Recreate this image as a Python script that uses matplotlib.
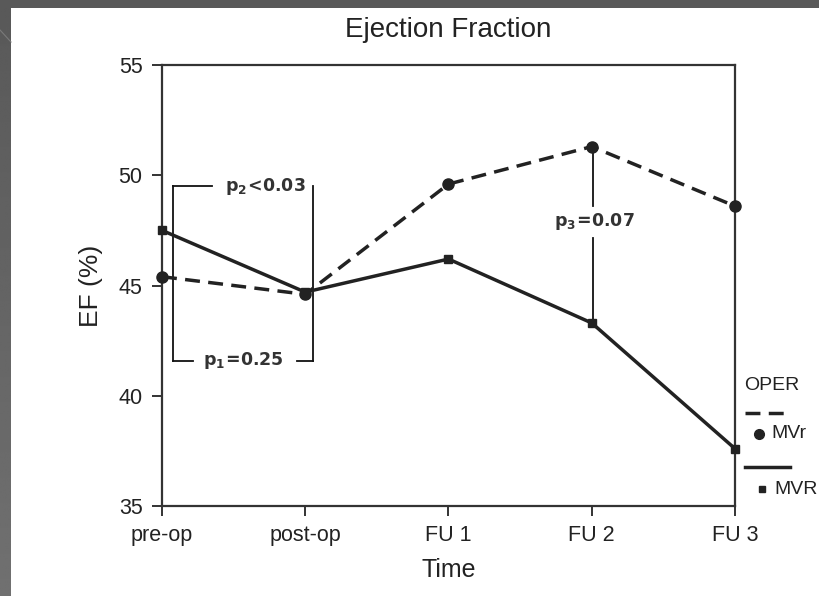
import numpy as np
import matplotlib
matplotlib.use("Agg")
import matplotlib.pyplot as plt
from matplotlib.lines import Line2D
from matplotlib.patches import Rectangle

# Time points and ejection fraction (%) per operation type
time_points = ["pre-op", "post-op", "FU 1", "FU 2", "FU 3"]
ef_mvr_repair = [45.4, 44.6, 49.6, 51.3, 48.6]    # MVr
ef_mvr_replace = [47.5, 44.7, 46.2, 43.3, 37.6]   # MVR

y_ticks = [35, 40, 45, 50, 55]

plt.rcParams["mathtext.fontset"] = "dejavusans"

W, H = 819, 596
fig = plt.figure(figsize=(W / 100, H / 100), dpi=100)
fig.patch.set_facecolor("#595959")

# Slide-like frame: white panel with a darker strip at the left edge
fig.add_artist(Rectangle((11 / W, 0), 1 - 11 / W, 1 - 8 / H,
                         transform=fig.transFigure, facecolor="white",
                         edgecolor="none", zorder=0))
strip = fig.add_axes([0, 0, 11 / W, 1 - 8 / H], zorder=0)
grad = np.linspace(0.35, 0.44, 256).reshape(-1, 1)
strip.imshow(grad, aspect="auto", cmap="gray", vmin=0, vmax=1,
             origin="upper", extent=[0, 1, 0, 1])
strip.set_axis_off()
fig.add_artist(Line2D([0, 11 / W], [1 - 30 / H, 1 - 42 / H],
                      transform=fig.transFigure, color="#7a7a7a", lw=0.8))

ink = "#222222"
ax = fig.add_axes([162 / W, 1 - 506 / H, (735 - 162) / W, (506 - 65) / H])
x = np.arange(len(time_points))

ax.plot(x, ef_mvr_repair, color=ink, lw=2.5, dashes=(4.3, 2.4),
        marker="o", ms=8, mfc=ink, mec=ink, zorder=3, clip_on=False)
ax.plot(x, ef_mvr_replace, color=ink, lw=2.5, linestyle="-",
        marker="s", ms=6, mfc=ink, mec=ink, zorder=3, clip_on=False)

ax.set_xlim(0, len(time_points) - 1)
ax.set_ylim(35, 55)
ax.set_xticks(x)
ax.set_xticklabels(time_points)
ax.set_yticks(y_ticks)

for lab in ax.get_xticklabels() + ax.get_yticklabels():
    lab.set_fontfamily("Liberation Sans")
    lab.set_fontsize(15.5)
    lab.set_color(ink)
ax.tick_params(direction="out", length=7, width=1.4, color="#333333", pad=7)
for sp in ax.spines.values():
    sp.set_color("#333333")
    sp.set_linewidth(1.6)

ax.set_xlabel("Time", fontfamily="Liberation Sans", fontsize=18, color=ink,
              labelpad=8)
ax.set_ylabel("EF (%)", fontfamily="Liberation Sans", fontsize=19, color=ink,
              labelpad=11)
ax.set_title("Ejection Fraction", fontfamily="Liberation Sans", fontsize=20,
             color=ink, pad=20)

# Significance brackets
br = dict(color="#111111", lw=1.3, zorder=2, clip_on=False)
ax.plot([0.077, 0.077], [41.58, 49.51], **br)
ax.plot([1.054, 1.054], [41.58, 49.51], **br)
ax.plot([0.077, 0.349], [49.51, 49.51], **br)
ax.plot([0.077, 0.216], [41.58, 41.58], **br)
ax.plot([0.942, 1.054], [41.58, 41.58], **br)
ax.plot([3.01, 3.01], [ef_mvr_repair[3], 48.6], **br)
ax.plot([3.01, 3.01], [47.15, ef_mvr_replace[3]], **br)

ann = dict(size=12.5, color="#333333", ha="center", va="center")
ax.text(0.72, 49.51, r"$\mathbf{p_2\!<\!0.03}$", **ann)
ax.text(0.565, 41.58, r"$\mathbf{p_1\!=\!0.25}$", **ann)
ax.text(3.02, 47.88, r"$\mathbf{p_3\!=\!0.07}$", **ann)

# Key for the operation type
fx = lambda px: px / W
fy = lambda py: 1 - py / H
key_font = dict(fontfamily="Liberation Sans", fontsize=14, color=ink,
                ha="left", va="center")
fig.text(fx(744), fy(386), "OPER", **key_font)
fig.add_artist(Line2D([fx(745), fx(787)], [fy(413), fy(413)],
                      transform=fig.transFigure, color=ink, lw=2.5,
                      dashes=(4.3, 2.4)))
fig.add_artist(Line2D([fx(759)], [fy(434)], transform=fig.transFigure,
                      marker="o", ms=7, color=ink, lw=0))
fig.text(fx(771), fy(434), "MVr", **key_font)
fig.add_artist(Line2D([fx(745), fx(790)], [fy(467), fy(467)],
                      transform=fig.transFigure, color=ink, lw=2.5))
fig.add_artist(Line2D([fx(762)], [fy(489)], transform=fig.transFigure,
                      marker="s", ms=5, color=ink, lw=0))
fig.text(fx(774), fy(489), "MVR", **key_font)

fig.savefig("out.png", dpi=100, facecolor=fig.get_facecolor())
